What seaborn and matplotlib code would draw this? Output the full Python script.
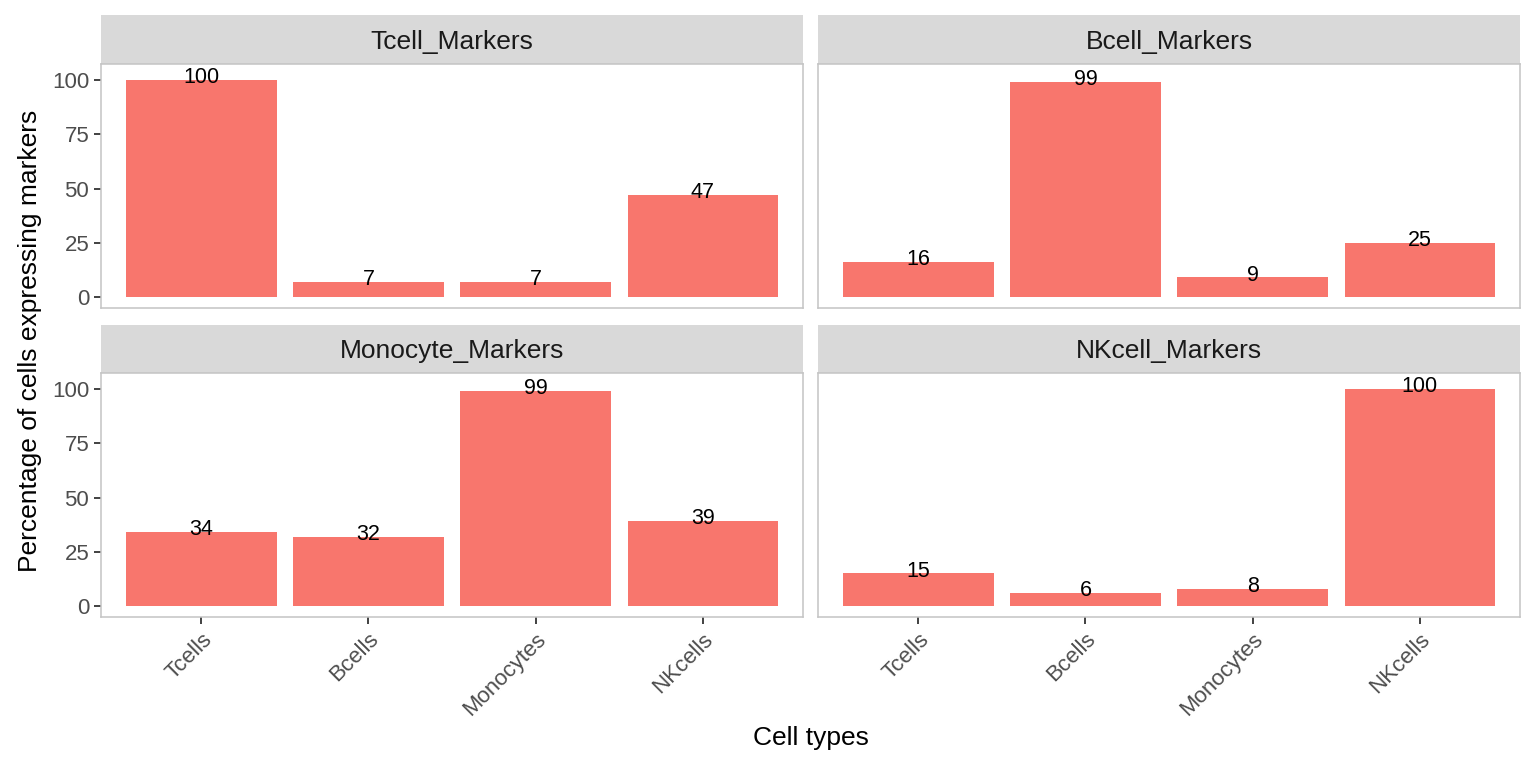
import matplotlib
matplotlib.use("Agg")
import matplotlib.pyplot as plt
import seaborn as sns
import pandas as pd

cell_types = ["Tcells", "Bcells", "Monocytes", "NKcells"]
marker_sets = ["Tcell_Markers", "Bcell_Markers", "Monocyte_Markers", "NKcell_Markers"]
tcell_vals = [100, 7, 7, 47]
bcell_vals = [16, 99, 9, 25]
mono_vals = [34, 32, 99, 39]
nk_vals = [15, 6, 8, 100]
y_ticks = [0, 25, 50, 75, 100]

series = [tcell_vals, bcell_vals, mono_vals, nk_vals]
df = pd.DataFrame({
    "marker": [m for m, s in zip(marker_sets, series) for _ in s],
    "cell": [c for s in series for c in cell_types],
    "pct": [v for s in series for v in s],
})

sns.set_theme(style="white")
plt.rcParams["font.family"] = ["Liberation Sans", "DejaVu Sans"]

W, H = 1536, 768
fig = plt.figure(figsize=(W / 100, H / 100), dpi=100)


def rect(x0, y0, x1, y1):
    return [x0 / W, 1 - y1 / H, (x1 - x0) / W, (y1 - y0) / H]


cols = [(101, 803), (818, 1520)]
rows = [((15, 64), (64, 308)), ((325, 373), (373, 617))]
bar_color = "#F8766D"
border = "#C4C4C4"

for i, m in enumerate(marker_sets):
    r, c = divmod(i, 2)
    (sy0, sy1), (py0, py1) = rows[r]
    x0, x1 = cols[c]
    # strip
    sax = fig.add_axes(rect(x0, sy0, x1, sy1))
    sax.set_facecolor("#D9D9D9")
    for sp in sax.spines.values():
        sp.set_visible(False)
    sax.set_xticks([])
    sax.set_yticks([])
    sax.text(0.5, 0.45, m, ha="center", va="center", fontsize=19,
             color="#1A1A1A", transform=sax.transAxes)
    # panel
    ax = fig.add_axes(rect(x0, py0, x1, py1))
    sub = df[df["marker"] == m]
    sns.barplot(data=sub, x="cell", y="pct", order=cell_types, color=bar_color,
                saturation=1, width=0.9, linewidth=0, ax=ax)
    ax.set_xlim(-0.6, 3.6)
    ax.set_ylim(-5.07, 107.4)
    ax.set_xlabel("")
    ax.set_ylabel("")
    ax.set_facecolor("white")
    for sp in ax.spines.values():
        sp.set_visible(True)
        sp.set_color(border)
        sp.set_linewidth(1.1)
    for xi, v in enumerate(sub["pct"].tolist()):
        ax.annotate(str(v), (xi, v), xytext=(0, -2.2), textcoords="offset points",
                    ha="center", va="baseline", fontsize=15.5, color="black")
    ax.set_yticks(y_ticks)
    ax.tick_params(axis="both", length=5, width=1.3, color="#333333",
                   labelcolor="#4D4D4D", labelsize=16, pad=3.5)
    if c == 1:
        ax.tick_params(axis="y", left=False, labelleft=False)
    else:
        ax.tick_params(axis="y", left=True, labelleft=True)
    if r == 0:
        ax.tick_params(axis="x", bottom=False, labelbottom=False)
    else:
        ax.tick_params(axis="x", bottom=True, labelbottom=True)
        for lab in ax.get_xticklabels():
            lab.set_rotation(45)
            lab.set_ha("right")
            lab.set_va("top")
            lab.set_rotation_mode("anchor")

fig.text(810.5 / W, 1 - 738 / H, "Cell types", ha="center", va="center",
         fontsize=19, color="black")
fig.text(30 / W, 1 - 341 / H, "Percentage of cells expressing markers",
         ha="center", va="center", rotation=90, fontsize=19, color="black")

fig.savefig("out.png", dpi=100)
